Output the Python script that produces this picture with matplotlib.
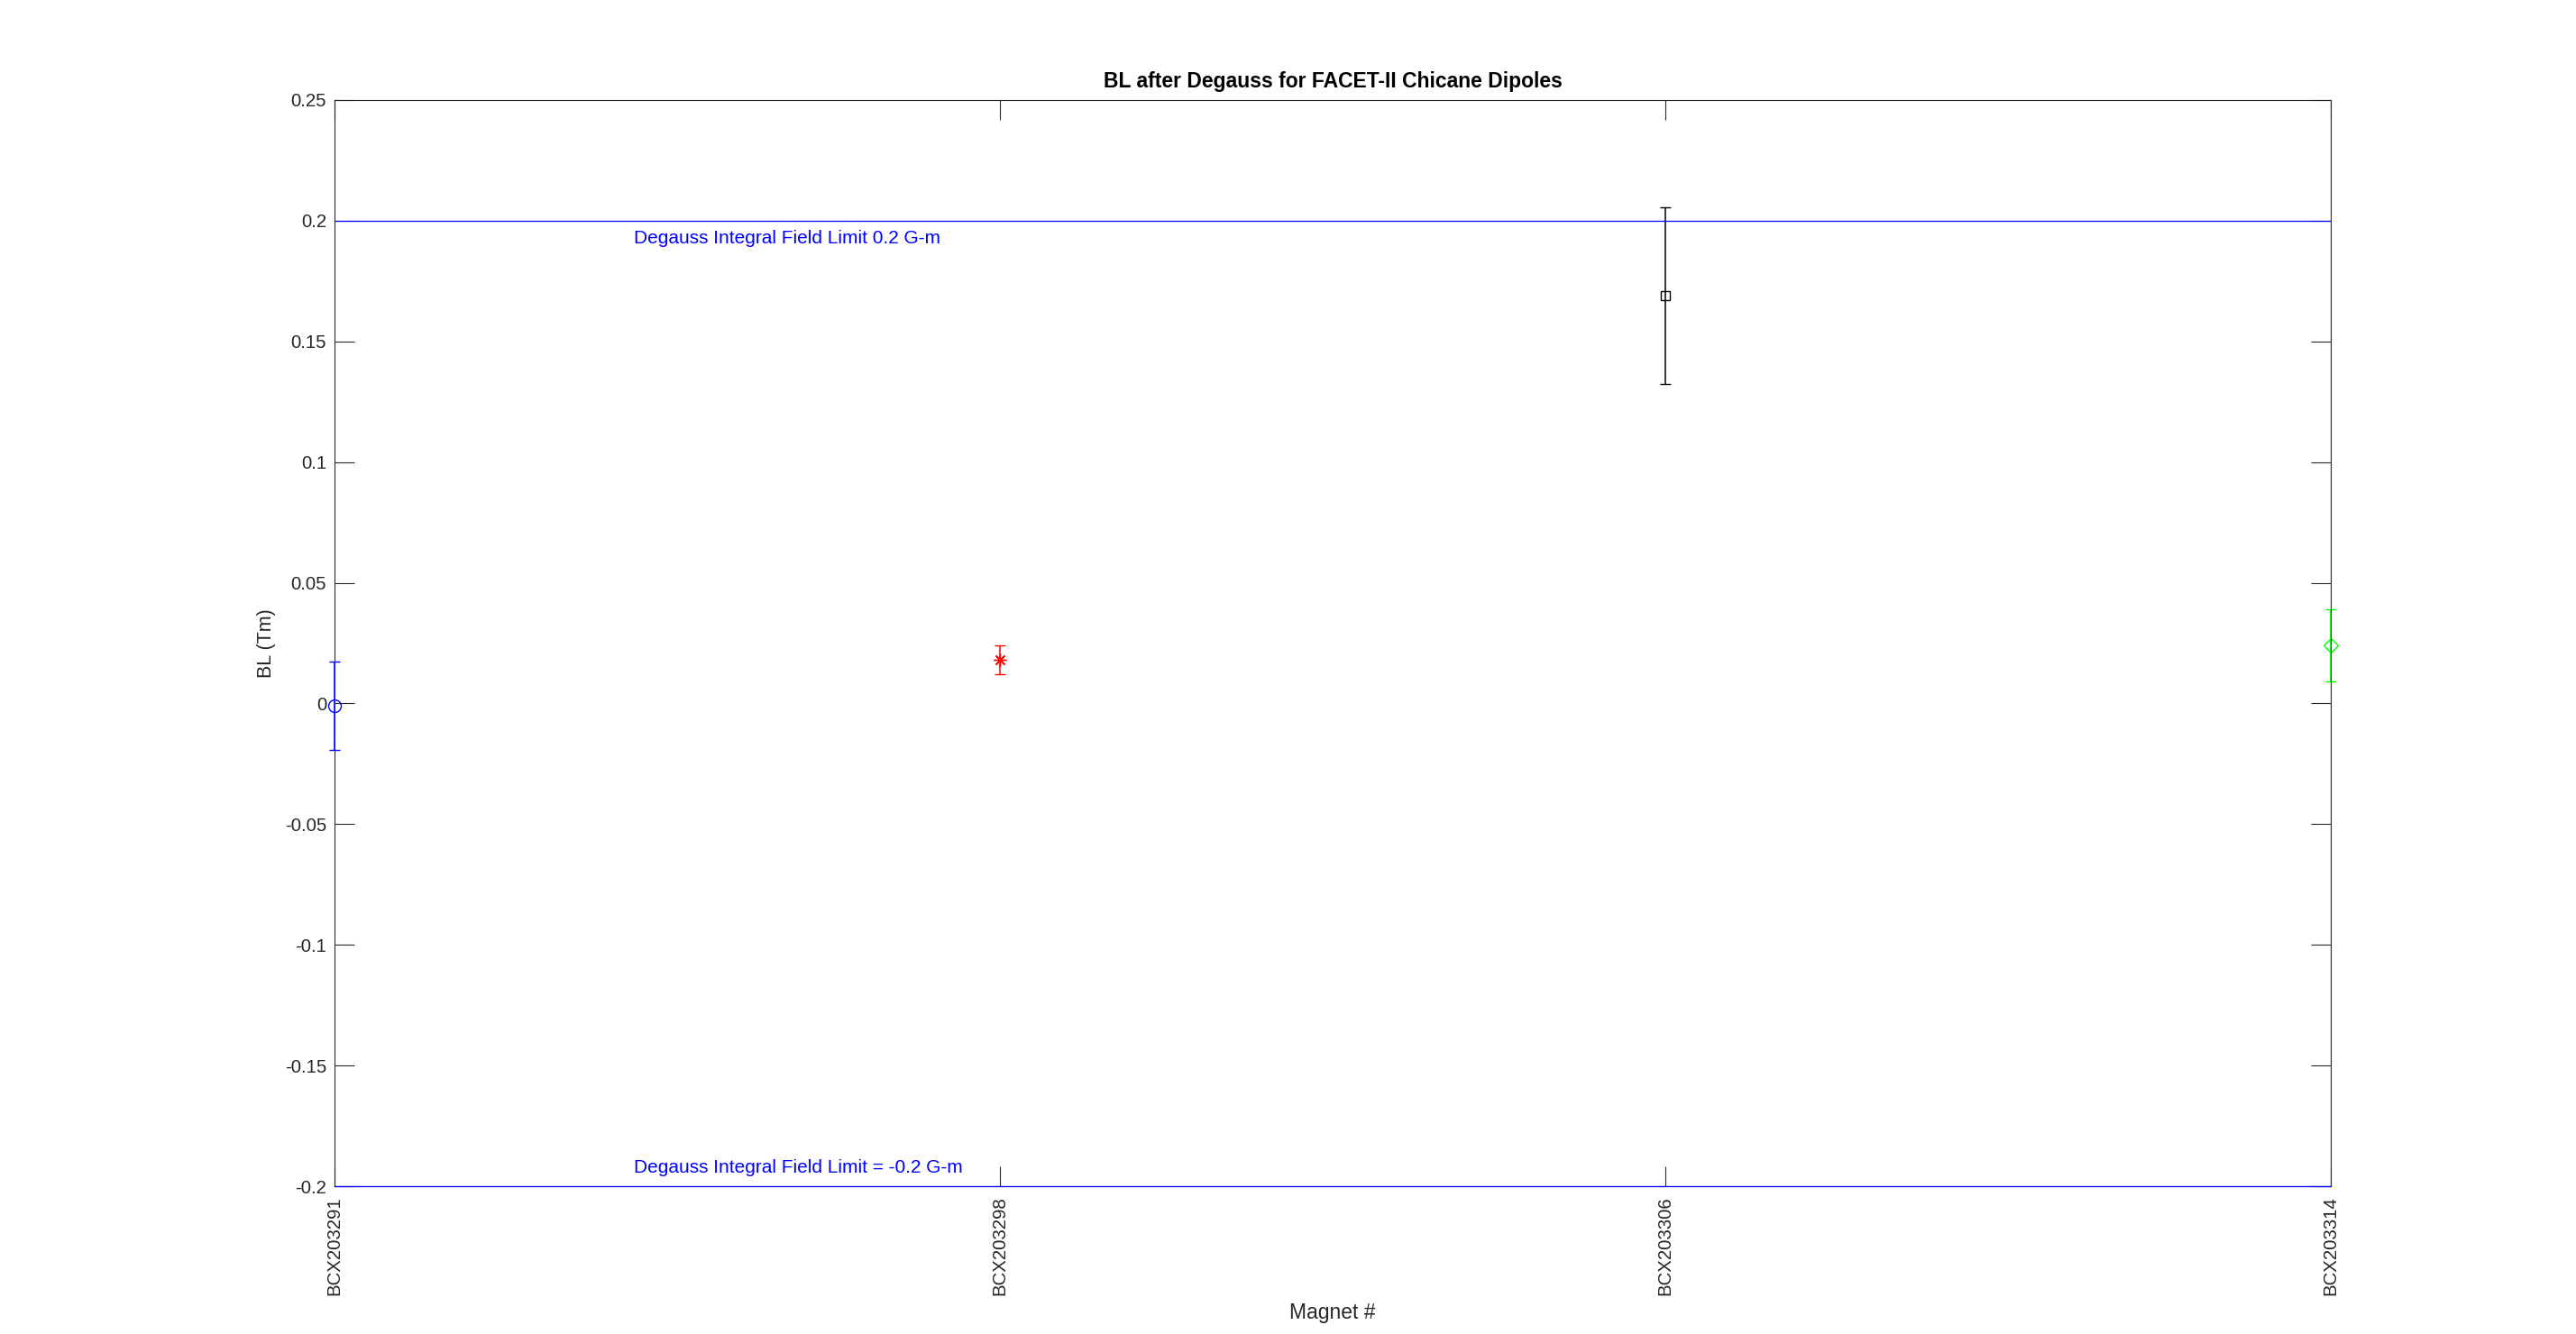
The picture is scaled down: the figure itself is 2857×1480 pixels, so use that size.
import matplotlib.pyplot as plt
import numpy as np

plt.rcParams['font.family'] = ['Liberation Sans', 'DejaVu Sans']

# data
magnets = ["BCX203291", "BCX203298", "BCX203306", "BCX203314"]
bl = [-0.001, 0.0181, 0.169, 0.0241]
bl_err = [0.0183, 0.006, 0.0365, 0.0148]
colors = ["#0000ff", "#ff0000", "#000000", "#00ff00"]
markers = ["o", (8, 2, 0), "s", "D"]
msizes = [10, 10, 7.5, 8.5]

limit_hi = 0.2
limit_lo = -0.2

fig = plt.figure(figsize=(28.57, 14.8), dpi=100)
ax = fig.add_axes([0.1299, 0.1108, 0.7749, 0.8142])

x = np.arange(1, len(magnets) + 1)
for i in range(len(magnets)):
    ax.errorbar(x[i], bl[i], yerr=bl_err[i], color=colors[i], marker=markers[i],
                markersize=msizes[i], mfc='none', mec=colors[i], mew=1.0,
                capsize=4.5, elinewidth=1.1, capthick=1.1, ls='none', clip_on=False)

# limit lines drawn over the axes box, like the reference
ax.axhline(limit_hi, color='#0000ff', lw=0.9, zorder=3)
ax.axhline(limit_lo, color='#0000ff', lw=0.9, zorder=3, clip_on=False)
ax.text(1.45, 0.1928, "Degauss Integral Field Limit 0.2 G-m", color='#0000ff',
        fontsize=15, va='center', ha='left')
ax.text(1.45, -0.1924, "Degauss Integral Field Limit = -0.2 G-m", color='#0000ff',
        fontsize=15, va='center', ha='left')

ax.set_xlim(1, 4)
ax.set_ylim(-0.2, 0.25)
ax.set_xticks(x)
ax.set_xticklabels(magnets, rotation=90)
yt = np.round(np.arange(-0.2, 0.2501, 0.05), 2)
ax.set_yticks(yt)
ax.set_yticklabels([("%g" % abs(v)) if v == 0 else ("%g" % v) for v in yt])

ax.tick_params(direction='in', length=16, width=0.8, labelsize=14.7,
               top=True, right=True, colors='#262626')
ax.tick_params(axis='y', pad=6.5)
ax.tick_params(axis='x', pad=8)
for s in ax.spines.values():
    s.set_color('#262626')
    s.set_linewidth(0.8)

ax.set_title("BL after Degauss for FACET-II Chicane Dipoles", fontsize=16.5,
             fontweight='bold', pad=10)
ax.set_xlabel("Magnet #", fontsize=16.5, color='#262626', labelpad=6)
ax.set_ylabel("BL (Tm)", fontsize=15.5, color='#262626', labelpad=7)

fig.savefig("out.png", dpi=100)
